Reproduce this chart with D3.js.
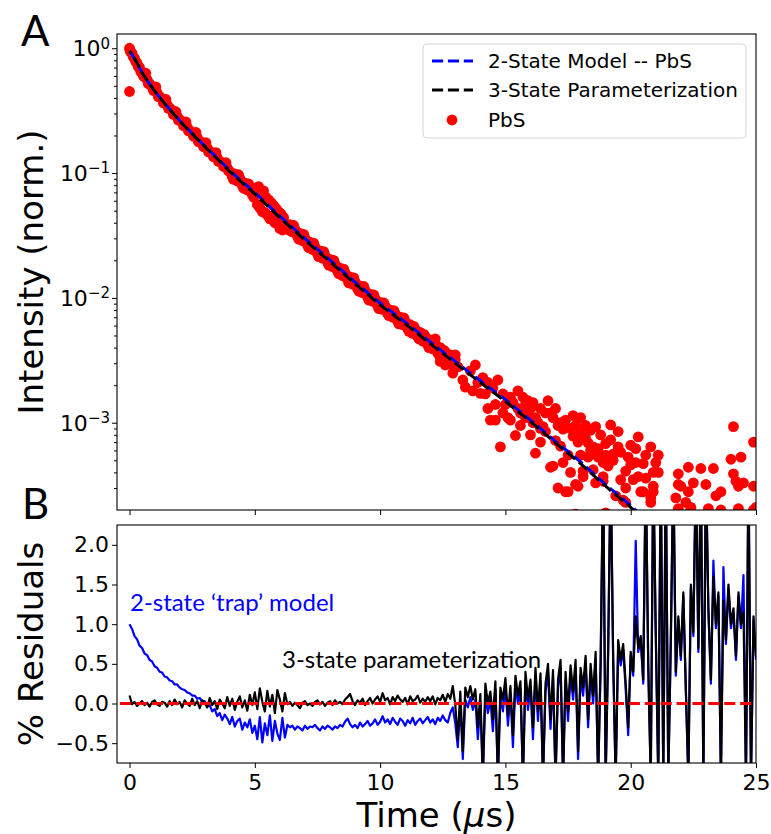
<!DOCTYPE html>
<html>
<head>
<meta charset="utf-8">
<script src="https://cdn.jsdelivr.net/npm/d3@7"></script>
<style>
  body { margin: 0; background: #fff; }
  svg { display: block; }
</style>
</head>
<body>
<svg id="chart" width="771" height="834"></svg>
<script>
// ---- data ----
const fitTime = [0, 0.1, 0.2, 0.3, 0.4, 0.5, 0.75, 1, 1.5, 2, 2.5, 3, 3.5, 4, 5, 6, 7, 8, 9, 10,
    11, 12, 13, 14, 15, 16, 17, 18, 19, 20, 20.5];
const fit2State = [0.94, 0.89, 0.82, 0.755, 0.695, 0.64, 0.535, 0.456, 0.344, 0.264, 0.208, 0.165, 0.132, 0.105,
    0.0695, 0.0452, 0.0299, 0.0201, 0.0134, 0.0091, 0.0064, 0.00443, 0.0031, 0.00217, 0.00153, 0.00105,
    0.00071, 0.000485, 0.00032, 0.000217, 0.000176];
const fit3State = [0.95, 0.90, 0.83, 0.76, 0.70, 0.64, 0.535, 0.455, 0.342, 0.262, 0.206, 0.163, 0.130, 0.103,
    0.068, 0.044, 0.029, 0.0195, 0.013, 0.0088, 0.0062, 0.0043, 0.0030, 0.0021, 0.00148, 0.00102,
    0.00069, 0.00047, 0.00031, 0.00021, 0.00017];

// PbS decay, [time (us), intensity]
const pbsEarly = [[0, 1.0], [0, 0.45], [0.02, 0.96], [0.05, 0.93], [0.1, 0.91], [0.15, 0.85], [0.2, 0.83],
    [0.25, 0.78], [0.3, 0.76], [0.35, 0.71], [0.4, 0.70], [0.45, 0.65], [0.5, 0.64], [0.6, 0.59], [0.7, 0.56],
    [0.8, 0.52], [0.9, 0.49], [1.0, 0.46], [1.1, 0.44], [1.2, 0.41], [1.3, 0.395], [1.4, 0.37], [1.5, 0.353],
    [1.6, 0.332], [1.7, 0.318], [1.8, 0.297], [1.9, 0.286], [2.0, 0.268], [2.1, 0.258], [2.2, 0.242],
    [2.3, 0.234], [2.4, 0.219], [2.5, 0.212], [2.6, 0.198], [2.7, 0.193], [2.8, 0.180], [2.9, 0.175],
    [3.0, 0.164], [3.1, 0.159], [3.2, 0.149], [3.3, 0.146], [3.4, 0.136], [3.5, 0.133], [3.6, 0.124],
    [3.7, 0.121], [3.8, 0.113], [3.9, 0.110], [4.0, 0.103],
    [0.55, 0.60], [0.75, 0.52], [0.95, 0.46], [1.15, 0.41], [1.35, 0.365], [1.55, 0.33], [1.75, 0.295],
    [1.95, 0.265], [2.15, 0.24], [2.35, 0.218], [2.55, 0.197], [2.75, 0.178], [2.95, 0.163], [3.15, 0.148],
    [3.35, 0.135], [3.55, 0.124], [3.75, 0.113], [3.95, 0.104],
    [0.65, 0.63], [1.05, 0.49], [1.45, 0.39], [1.85, 0.31], [2.25, 0.257], [2.65, 0.212], [3.05, 0.175],
    [3.45, 0.146], [3.85, 0.121]];
const pbsMid = [[4.1, 0.094], [4.2, 0.0986], [4.3, 0.0864], [4.4, 0.0908], [4.5, 0.0796], [4.6, 0.0836],
    [4.7, 0.0732], [4.8, 0.0770], [4.9, 0.0674], [5.0, 0.0708], [5.05, 0.076], [5.1, 0.056], [5.15, 0.078],
    [5.2, 0.0525], [5.25, 0.068], [5.3, 0.049], [5.35, 0.072], [5.4, 0.0485], [5.45, 0.064], [5.5, 0.046],
    [5.55, 0.061], [5.6, 0.043], [5.65, 0.058], [5.7, 0.045], [5.75, 0.055], [5.8, 0.040], [5.85, 0.052],
    [5.9, 0.0415], [5.95, 0.049], [6.0, 0.036], [6.05, 0.047], [6.1, 0.035], [6.15, 0.044], [6.2, 0.038],
    [6.3, 0.0369], [6.4, 0.0387], [6.5, 0.0338], [6.6, 0.0356], [6.7, 0.0312], [6.8, 0.0328], [6.9, 0.0287],
    [7.0, 0.0302], [7.1, 0.0265], [7.2, 0.0279], [7.3, 0.0244], [7.4, 0.0257], [7.5, 0.0226], [7.6, 0.0238],
    [7.7, 0.0208], [7.8, 0.0219], [7.9, 0.0193], [8.0, 0.0203], [8.1, 0.0178], [8.2, 0.0187], [8.3, 0.0164],
    [8.4, 0.0173], [8.5, 0.0151], [8.6, 0.0159], [8.7, 0.0140], [8.8, 0.0147], [8.9, 0.0129], [9.0, 0.0135],
    [9.1, 0.0119], [9.2, 0.0125], [9.3, 0.0110], [9.4, 0.0115], [9.5, 0.0102], [9.6, 0.0107], [9.7, 0.0094],
    [9.8, 0.0099], [9.9, 0.0087], [10.0, 0.0092],
    [4.15, 0.089], [4.55, 0.0755], [4.95, 0.064], [6.35, 0.035], [6.75, 0.0296], [7.15, 0.0252],
    [7.55, 0.0214], [7.95, 0.0183], [8.35, 0.0156], [8.75, 0.0132], [9.15, 0.0113], [9.55, 0.0096],
    [9.95, 0.0082], [4.35, 0.097], [4.75, 0.082], [6.55, 0.038], [6.95, 0.0323], [7.35, 0.0275],
    [7.75, 0.0235], [8.15, 0.0200], [8.55, 0.0170], [8.95, 0.01447], [9.35, 0.01234], [9.75, 0.01055]];
const pbsLate = [[10.1, 0.0081], [10.2, 0.0086], [10.3, 0.0075], [10.4, 0.0080], [10.5, 0.0070], [10.6, 0.0075],
    [10.7, 0.0065], [10.8, 0.0070], [10.9, 0.0061], [11.0, 0.0065], [11.1, 0.0057], [11.2, 0.0061],
    [11.3, 0.0052], [11.4, 0.0056], [11.5, 0.0049], [11.6, 0.0053], [11.7, 0.0045], [11.8, 0.0049],
    [11.9, 0.0042], [12.0, 0.0046], [12.1, 0.0039], [12.2, 0.0043], [12.3, 0.0036], [12.4, 0.0040],
    [12.5, 0.0034], [12.6, 0.0037], [12.7, 0.0031], [12.8, 0.0035], [12.9, 0.0029], [13.0, 0.0032],
    [12.2, 0.0047], [12.4, 0.0031], [12.6, 0.0029], [12.9, 0.0025], [13.0, 0.0035],
    [10.35, 0.0072], [10.75, 0.0062], [11.15, 0.0054], [11.55, 0.0047], [11.95, 0.0040], [12.35, 0.0035],
    [12.75, 0.0030], [10.15, 0.0091], [10.55, 0.0079], [10.95, 0.0069], [11.35, 0.0059], [11.75, 0.0051],
    [12.15, 0.0044], [12.55, 0.0038]];
const pbsTail = [[13.1, 0.0028], [13.3, 0.0022], [13.4, 0.00193], [13.6, 0.0026], [13.8, 0.0029], [13.9, 0.0021],
    [14.0, 0.00172], [14.1, 0.0023], [14.3, 0.0013], [14.4, 0.00105], [14.5, 0.0019], [14.7, 0.0022],
    [14.8, 0.00064], [14.9, 0.0017], [15.0, 0.0014], [15.2, 0.0016], [15.3, 0.00145], [15.4, 0.00079],
    [15.5, 0.0013], [15.7, 0.0016], [15.8, 0.0011], [15.9, 0.0012], [15.9, 0.0015], [16.1, 0.0010],
    [16.2, 0.00057], [16.3, 0.0010], [16.4, 0.0013], [16.5, 0.00093], [16.6, 0.0012], [16.7, 0.0015],
    [16.8, 0.00044], [16.9, 0.0011], [16.9, 0.00045], [17.0, 0.00072], [17.1, 0.00030], [17.2, 0.0010],
    [17.3, 0.00089], [17.3, 0.00048], [17.4, 0.00028], [17.5, 0.00028], [17.5, 0.00055], [17.6, 0.0004],
    [17.7, 0.00114], [17.7, 0.00078], [17.8, 0.00032], [17.9, 0.00031], [18.0, 0.00084], [18.0, 0.0011],
    [18.1, 0.00041], [18.1, 0.00037], [18.3, 0.00069], [18.3, 0.00053], [18.4, 0.00087], [18.5, 0.00064],
    [18.5, 0.00042], [18.6, 0.00093], [18.6, 0.00033], [18.7, 0.00053], [18.7, 0.00062], [18.9, 0.00037],
    [18.9, 0.00034], [19.1, 0.00045], [19.2, 0.00096], [19.2, 0.00073], [19.3, 0.00056], [19.3, 0.0005],
    [19.4, 0.00026], [19.5, 0.00085], [19.5, 0.00064], [19.7, 0.00024], [19.8, 0.00041], [19.8, 0.0003],
    [19.8, 0.00023], [19.9, 0.00053], [20.0, 0.00046], [20.1, 0.00035], [20.2, 0.00062], [20.3, 0.00077],
    [20.3, 0.00037], [20.4, 0.00028], [20.5, 0.00047], [20.5, 0.00028], [20.8, 0.00064], [20.8, 0.00025],
    [20.8, 0.00023], [20.9, 0.00040], [20.9, 0.00031], [20.9, 0.00028], [21.1, 0.00055], [21.1, 0.00040],
    [21.8, 0.00025], [21.9, 0.00039], [21.9, 0.00032], [22.0, 0.00031], [22.2, 0.00023], [22.3, 0.00044],
    [22.3, 0.00028], [22.4, 0.00021], [22.5, 0.00033], [22.8, 0.00043], [23.0, 0.00032], [23.3, 0.00043],
    [23.4, 0.00026], [23.6, 0.00028], [24.0, 0.00051], [24.1, 0.00093], [24.1, 0.00039], [24.2, 0.00034],
    [24.3, 0.00031], [24.4, 0.00053], [24.5, 0.00033], [24.9, 0.0007], [24.9, 0.00031], [25.0, 0.00021],
    [0, 0.00018], [17.8, 0.000185], [19.0, 0.00019], [21.9, 0.000205], [22.4, 0.0002], [23.1, 0.000205],
    [23.6, 0.0002], [24.3, 0.000205], [24.9, 0.0002],
    [14.2, 0.0017], [14.6, 0.0014], [14.9, 0.0012], [15.1, 0.0011], [15.6, 0.0012], [15.8, 0.0014],
    [16.0, 0.0013], [16.2, 0.0011], [16.4, 0.0009], [16.6, 0.00085], [16.8, 0.0012], [17.0, 0.0013],
    [17.1, 0.00095], [17.4, 0.00105], [17.6, 0.0009], [17.8, 0.00095], [17.9, 0.0007], [18.2, 0.00095],
    [18.2, 0.00075], [18.4, 0.0006], [18.8, 0.0008], [19.0, 0.00068], [19.0, 0.00055], [19.6, 0.00058],
    [20.0, 0.00066], [20.6, 0.00055], [20.6, 0.00036], [21.0, 0.00048], [15.2, 0.00105], [15.6, 0.00095],
    [16.0, 0.0008], [16.4, 0.0007], [17.2, 0.00065], [18.0, 0.00055], [18.9, 0.00048], [19.6, 0.00035],
    [20.2, 0.00048], [16.1, 0.00145], [15.5, 0.0018], [14.6, 0.00105], [13.7, 0.0018], [14.3, 0.0021]];

// % residuals, sampled every 0.1 us from t = 0 to 25 (one row per microsecond)
const resStep = 0.1;
const res2State = [
    1.00, 0.94, 0.85, 0.81, 0.73, 0.70, 0.63, 0.61, 0.55, 0.53,
    0.47, 0.45, 0.40, 0.39, 0.34, 0.33, 0.29, 0.28, 0.24, 0.24,
    0.20, 0.18, 0.17, 0.14, 0.13, 0.10, 0.10, 0.06, 0.07, 0.02,
    0.03, -0.04, -0.02, -0.10, -0.07, -0.16, -0.12, -0.21, -0.14, -0.19,
    -0.26, -0.17, -0.29, -0.22, -0.19, -0.33, -0.24, -0.30, -0.20, -0.37,
    -0.28, -0.45, -0.17, -0.49, -0.25, -0.40, -0.15, -0.47, -0.22, -0.38,
    -0.46, -0.18, -0.43, -0.27, -0.30, -0.28, -0.33, -0.29, -0.31, -0.34,
    -0.28, -0.32, -0.29, -0.30, -0.27, -0.31, -0.34, -0.29, -0.32, -0.28,
    -0.30, -0.33, -0.29, -0.31, -0.27, -0.29, -0.23, -0.19, -0.26, -0.30,
    -0.27, -0.31, -0.24, -0.29, -0.26, -0.22, -0.28, -0.25, -0.20, -0.27,
    -0.23, -0.16, -0.24, -0.20, -0.26, -0.18, -0.23, -0.27, -0.19, -0.22,
    -0.28, -0.21, -0.25, -0.18, -0.27, -0.22, -0.19, -0.25, -0.21, -0.17,
    -0.24, -0.20, -0.26, -0.18, -0.22, -0.15, -0.21, -0.24, -0.12, -0.05,
    -0.25, -0.55, 0.00, -0.70, 0.05, -0.05, 0.08, -0.08, 0.05, -0.45,
    0.00, -0.95, 0.12, -0.12, 0.05, -0.35, 0.18, -0.95, 0.10, -0.10,
    0.22, -0.28, 0.12, -0.55, 0.25, 0.00, 0.18, -0.95, 0.30, -0.08,
    0.20, -0.45, 0.35, -0.22, 0.28, -0.95, 0.15, 0.40, -0.32, 0.32,
    -0.95, 0.20, 0.45, -0.95, 0.30, -0.22, 0.38, 0.05, 0.45, -0.70,
    0.35, 0.10, 0.50, -0.30, 0.40, 0.00, 0.55, -0.95, 0.45, 3.00,
    -0.95, 0.62, 3.00, 0.52, -0.95, 0.72, 0.48, 0.68, 0.18, -0.40,
    0.60, 0.35, 2.05, 0.65, 0.80, 0.25, 3.00, 0.45, -0.95, 3.00,
    0.85, -0.95, 3.00, -0.95, 3.00, -0.95, 0.75, 3.00, 0.35, 1.05,
    0.55, 1.35, 0.15, -0.95, 1.45, 0.85, 3.00, 0.65, 3.00, -0.95,
    3.00, 1.15, 0.25, 1.80, 0.95, 1.35, -0.95, 1.72, 0.75, 1.45,
    0.95, 1.15, 0.55, 1.35, 0.95, 1.62, -0.95, 3.00, -0.95, 1.05,
    0.55];
const res3State = [
    0.10, -0.01, 0.02, -0.03, 0.00, 0.03, -0.02, 0.01, -0.04, 0.02,
    0.04, -0.01, -0.03, 0.02, 0.01, -0.04, 0.03, -0.02, 0.05, -0.01,
    0.02, -0.05, 0.04, 0.00, -0.03, 0.06, -0.02, 0.03, -0.06, 0.04,
    0.01, -0.05, 0.07, -0.02, 0.03, -0.07, 0.05, 0.00, -0.06, 0.08,
    -0.03, 0.06, -0.08, 0.02, 0.09, -0.05, 0.04, -0.09, 0.11, -0.02,
    0.14, -0.07, 0.19, 0.02, -0.10, 0.16, -0.04, 0.11, -0.12, 0.17,
    0.05, -0.10, 0.13, -0.01, 0.02, -0.03, 0.01, -0.02, -0.06, 0.01,
    0.03, -0.02, 0.00, -0.03, 0.02, 0.04, -0.01, 0.02, -0.03, 0.01,
    0.03, -0.02, 0.04, 0.00, 0.02, -0.01, 0.05, 0.08, 0.12, 0.03,
    -0.02, 0.04, 0.01, 0.06, -0.02, 0.03, 0.07, 0.00, 0.05, 0.09,
    0.02, 0.13, 0.04, 0.07, -0.01, 0.08, 0.03, 0.10, 0.05, 0.02,
    0.07, -0.01, 0.09, 0.03, 0.05, 0.10, 0.01, 0.06, 0.02, 0.08,
    0.03, 0.09, -0.01, 0.07, 0.04, 0.11, 0.02, 0.12, 0.06, 0.22,
    -0.02, -0.45, 0.15, -0.60, 0.20, 0.08, 0.22, 0.05, 0.18, -0.30,
    0.12, -0.90, 0.25, 0.00, 0.15, -0.20, 0.28, -0.95, 0.20, 0.05,
    0.32, -0.15, 0.22, -0.40, 0.35, 0.10, 0.28, -0.95, 0.40, 0.05,
    0.30, -0.30, 0.45, -0.10, 0.38, -0.95, 0.25, 0.50, -0.20, 0.42,
    -0.95, 0.30, 0.55, -0.95, 0.40, -0.10, 0.48, 0.15, 0.55, -0.60,
    0.45, 0.20, 0.60, -0.20, 0.50, 0.10, 0.65, -0.95, 0.55, 3.00,
    -0.95, 0.70, 3.00, 0.60, -0.95, 0.80, 0.55, 0.75, 0.25, -0.30,
    0.65, 0.40, 1.10, 0.70, 0.85, 0.30, 3.00, 0.50, -0.95, 3.00,
    0.90, -0.95, 3.00, -0.95, 3.00, -0.95, 0.80, 3.00, 0.40, 1.10,
    0.60, 1.40, 0.20, -0.95, 1.50, 0.90, 3.00, 0.70, 3.00, -0.95,
    3.00, 1.20, 0.30, 1.60, 1.00, 1.40, -0.95, 1.30, 0.80, 1.50,
    1.00, 1.20, 0.60, 1.40, 1.00, 1.15, -0.95, 3.00, -0.95, 1.10,
    0.60];

const timeTicks = [0, 5, 10, 15, 20, 25];
const decadeTicks = [1, 0.1, 0.01, 0.001];
const decadeExp = ['0', '\u22121', '\u22122', '\u22123'];
const residualTicks = [-0.5, 0, 0.5, 1.0, 1.5, 2.0];
const legendLabels = ['2-State Model -- PbS', '3-State Parameterization', 'PbS'];

// ---- layout ----
const svg = d3.select('#chart'),
    left = 117, right = 756,
    aTop = 34, aBottom = 510,
    bTop = 525, bBottom = 763,
    tickFont = 'DejaVu Sans, sans-serif',
    dash = '11.1,4.8';

const x = d3.scaleLinear().domain([-0.5, 25]).range([left, right]);
const yA = d3.scaleLog().domain([2.0e-4, 1.3]).range([aBottom, aTop]);
const yB = d3.scaleLinear().domain([-0.75, 2.25]).range([bBottom, bTop]);

const defs = svg.append('defs');
defs.append('clipPath').attr('id', 'clipA').append('rect')
    .attr('x', left).attr('y', aTop).attr('width', right - left).attr('height', aBottom - aTop);
defs.append('clipPath').attr('id', 'clipB').append('rect')
    .attr('x', left).attr('y', bTop).attr('width', right - left).attr('height', bBottom - bTop);

// ---- panel A ----
const panelA = svg.append('g').attr('clip-path', 'url(#clipA)');
const pbs = pbsEarly.concat(pbsMid, pbsLate, pbsTail);

panelA.selectAll('circle')
    .data(pbs)
    .join('circle')
    .attr('cx', d => x(d[0]))
    .attr('cy', d => yA(d[1]))
    .attr('r', 5.4)
    .attr('fill', '#ff0000');

const fitLine = d3.line()
    .x((d, i) => x(fitTime[i]))
    .y(d => yA(d))
    .curve(d3.curveMonotoneX);

panelA.append('path')
    .attr('d', fitLine(fit2State))
    .attr('fill', 'none')
    .attr('stroke', '#0000ff')
    .attr('stroke-width', 3)
    .attr('stroke-dasharray', dash);

panelA.append('path')
    .attr('d', fitLine(fit3State))
    .attr('fill', 'none')
    .attr('stroke', '#000')
    .attr('stroke-width', 3)
    .attr('stroke-dasharray', dash)
    .attr('stroke-dashoffset', 8);

// axes A
svg.append('g')
    .attr('transform', `translate(0,${aBottom})`)
    .call(d3.axisBottom(x).tickValues(timeTicks).tickSize(5).tickFormat(''))
    .call(g => g.select('.domain').remove());

const minorTicks = [];
[1e-4, 1e-3, 1e-2, 1e-1, 1].forEach(dec => {
    for (let k = 2; k <= 9; k++) {
        const v = dec * k;
        if (v > 2.0e-4 && v < 1.3) minorTicks.push(v);
    }
});

svg.append('g')
    .attr('transform', `translate(${left},0)`)
    .call(d3.axisLeft(yA).tickValues(minorTicks).tickSize(3).tickFormat(''))
    .call(g => g.select('.domain').remove());

svg.append('g')
    .attr('transform', `translate(${left},0)`)
    .call(d3.axisLeft(yA).tickValues(decadeTicks).tickSize(5).tickFormat(''))
    .call(g => g.select('.domain').remove());

decadeTicks.forEach((v, i) => {
    const t = svg.append('text')
        .attr('x', left - 7)
        .attr('y', yA(v))
        .attr('dy', '0.36em')
        .attr('text-anchor', 'end')
        .attr('font-family', tickFont)
        .attr('font-size', 22)
        .attr('fill', '#000');
    t.append('tspan').text('10');
    t.append('tspan')
        .attr('dy', '-0.5em')
        .attr('font-size', 15)
        .text(decadeExp[i]);
});

svg.append('rect')
    .attr('x', left).attr('y', aTop)
    .attr('width', right - left).attr('height', aBottom - aTop)
    .attr('fill', 'none').attr('stroke', '#000').attr('stroke-width', 1.1);

// legend
const legend = svg.append('g');
legend.append('rect')
    .attr('x', 423).attr('y', 44).attr('width', 323).attr('height', 94).attr('rx', 4)
    .attr('fill', '#fff').attr('fill-opacity', 0.8)
    .attr('stroke', '#d6d6d6').attr('stroke-width', 1);

[['#0000ff', 61], ['#000', 90]].forEach(([c, ly]) => {
    legend.append('line')
        .attr('x1', 432).attr('x2', 473).attr('y1', ly).attr('y2', ly)
        .attr('stroke', c).attr('stroke-width', 3).attr('stroke-dasharray', dash);
});
legend.append('circle').attr('cx', 452).attr('cy', 120).attr('r', 5.4).attr('fill', '#ff0000');

legend.selectAll('text.lab')
    .data(legendLabels)
    .join('text')
    .attr('class', 'lab')
    .attr('x', 488)
    .attr('y', (d, i) => [61, 90, 120][i])
    .attr('dy', '0.36em')
    .attr('font-family', tickFont)
    .attr('font-size', 20)
    .attr('fill', '#000')
    .text(d => d);

// ---- panel B ----
const panelB = svg.append('g').attr('clip-path', 'url(#clipB)');
const resLine = d3.line()
    .x((d, i) => x(i * resStep))
    .y(d => yB(d));

panelB.append('path')
    .attr('d', resLine(res2State))
    .attr('fill', 'none')
    .attr('stroke', '#0000ff')
    .attr('stroke-width', 2.2)
    .attr('stroke-linejoin', 'round');

panelB.append('path')
    .attr('d', resLine(res3State))
    .attr('fill', 'none')
    .attr('stroke', '#000')
    .attr('stroke-width', 2.2)
    .attr('stroke-linejoin', 'round');

panelB.append('line')
    .attr('x1', left + 3).attr('x2', right)
    .attr('y1', yB(0)).attr('y2', yB(0))
    .attr('stroke', '#ff0000')
    .attr('stroke-width', 3)
    .attr('stroke-dasharray', dash);

svg.append('g')
    .attr('transform', `translate(0,${bBottom})`)
    .call(d3.axisBottom(x).tickValues(timeTicks).tickSize(5).tickPadding(6).tickFormat(d3.format('d')))
    .call(g => g.select('.domain').remove())
    .call(g => g.selectAll('text').attr('font-family', tickFont).attr('font-size', 22).attr('fill', '#000'));

svg.append('g')
    .attr('transform', `translate(${left},0)`)
    .call(d3.axisLeft(yB).tickValues(residualTicks).tickSize(5).tickPadding(3).tickFormat(d3.format('.1f')))
    .call(g => g.select('.domain').remove())
    .call(g => g.selectAll('text').attr('font-family', tickFont).attr('font-size', 22).attr('fill', '#000'));

svg.append('rect')
    .attr('x', left).attr('y', bTop)
    .attr('width', right - left).attr('height', bBottom - bTop)
    .attr('fill', 'none').attr('stroke', '#000').attr('stroke-width', 1.1);

svg.selectAll('.tick line').attr('stroke', '#000').attr('stroke-width', 1);

// annotations
svg.append('text')
    .attr('x', 130).attr('y', 611)
    .attr('font-family', 'Lato, sans-serif').attr('font-size', 24)
    .attr('fill', '#0000ff')
    .text('2-state \u2018trap\u2019 model');

svg.append('text')
    .attr('x', 282).attr('y', 668)
    .attr('font-family', 'Lato, sans-serif').attr('font-size', 24)
    .attr('fill', '#000')
    .text('3-state parameterization');

// axis titles
svg.append('text')
    .attr('transform', `translate(43,${(aTop + aBottom) / 2}) rotate(-90)`)
    .attr('text-anchor', 'middle')
    .attr('font-family', tickFont).attr('font-size', 34)
    .text('Intensity (norm.)');

svg.append('text')
    .attr('transform', `translate(43,${(bTop + bBottom) / 2}) rotate(-90)`)
    .attr('text-anchor', 'middle')
    .attr('font-family', tickFont).attr('font-size', 34)
    .text('% Residuals');

const xTitle = svg.append('text')
    .attr('x', (left + right) / 2).attr('y', 827)
    .attr('text-anchor', 'middle')
    .attr('font-family', tickFont).attr('font-size', 34);
xTitle.append('tspan').text('Time (');
xTitle.append('tspan').attr('font-style', 'italic').text('\u03bc');
xTitle.append('tspan').text('s)');

// panel letters
svg.append('text').attr('x', 21).attr('y', 46)
    .attr('font-family', 'Lato, sans-serif').attr('font-size', 42).text('A');
svg.append('text').attr('x', 22).attr('y', 519)
    .attr('font-family', 'Lato, sans-serif').attr('font-size', 42).text('B');
</script>
</body>
</html>
